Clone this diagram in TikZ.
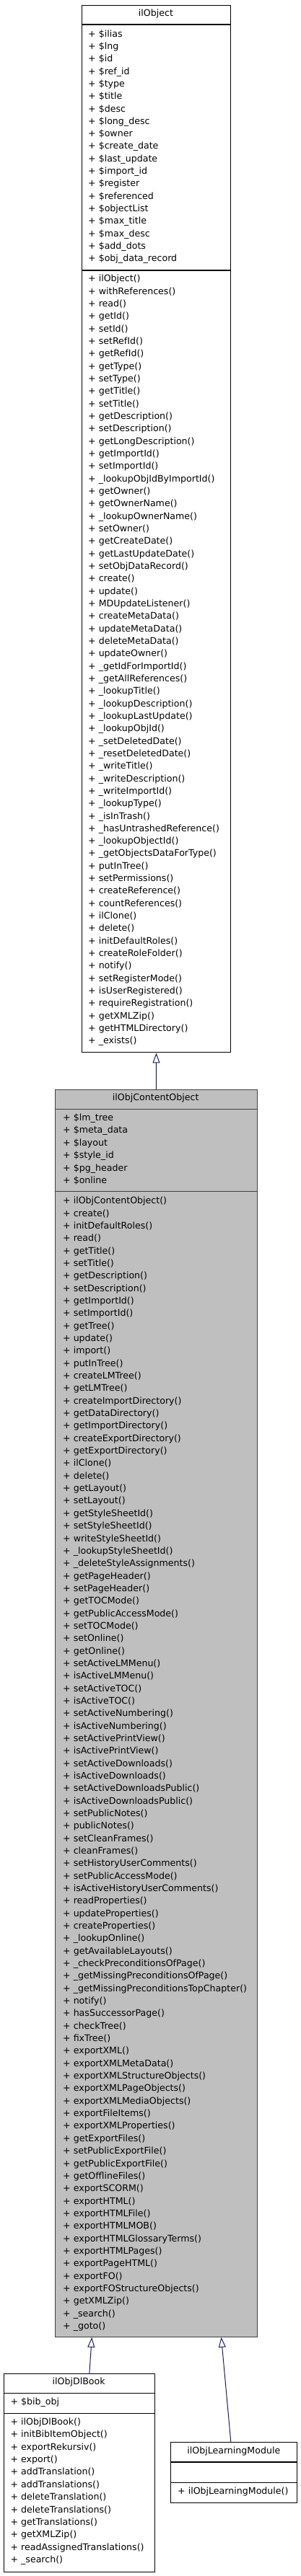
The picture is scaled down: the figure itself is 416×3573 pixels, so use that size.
\documentclass[tikz,border=0pt]{standalone}
\usepackage{fontspec}
\setmainfont{DejaVu Sans}
\usetikzlibrary{arrows.meta}
\definecolor{edgeblue}{HTML}{191970}
\definecolor{fillgray}{HTML}{BFBFBF}
\definecolor{boxgray}{HTML}{404040}
\newcommand{\fsz}{\fontsize{12.6}{15}\selectfont}
\tikzset{
  mline/.style={anchor=west, inner sep=0pt, text height=9.5pt, text depth=2.5pt, font=\fsz},
  ctitle/.style={anchor=center, inner sep=0pt, text height=9.5pt, text depth=2.5pt, font=\fsz},
  wbox/.style={draw=black, line width=1.1pt, fill=white, inner sep=0pt, anchor=north west},
  gbox/.style={draw=boxgray, line width=1.1pt, fill=fillgray, inner sep=0pt, anchor=north west},
  wsep/.style={draw=black, line width=1.1pt},
  gsep/.style={draw=boxgray, line width=1.1pt},
  inh/.style={draw=edgeblue, line width=1pt, -{Triangle[open, length=14pt, width=10pt]}}
}
\begin{document}
\begin{tikzpicture}[x=1pt,y=-1pt]
\useasboundingbox (0,0) rectangle (416,3573);
% ---------- boxes ----------
\node[wbox, minimum width=206.6pt, minimum height=1452.6pt] (ilobj) at (112.7,6.7) {};
\node[gbox, minimum width=280pt, minimum height=1729.7pt] (ilcob) at (75.7,1511) {};
\node[wbox, minimum width=209pt, minimum height=275pt] (dlbook) at (4.7,3291.7) {};
\node[wbox, minimum width=175pt, minimum height=83.7pt] (lm) at (236.3,3387.3) {};
% ---------- separators ----------
\draw[wsep] (112.7,34) -- (319.3,34);
\draw[wsep] (112.7,375) -- (319.3,375);
\draw[gsep] (75.7,1538.7) -- (355.7,1538.7);
\draw[gsep] (75.7,1652.7) -- (355.7,1652.7);
\draw[wsep] (4.7,3319.3) -- (213.7,3319.3);
\draw[wsep] (4.7,3347.7) -- (213.7,3347.7);
\draw[wsep] (236.3,3415) -- (411.3,3415);
\draw[wsep] (236.3,3443.3) -- (411.3,3443.3);
% ---------- titles ----------
\node[ctitle] (t1) at (216,19.3) {ilObject};
\node[ctitle] (t2) at (215.7,1523.3) {ilObjContentObject};
\node[ctitle] (t3) at (109.2,3304.3) {ilObjDlBook};
\node[ctitle] (t4) at (323.8,3400.3) {ilObjLearningModule};
% ---------- ilObject attributes ----------
\foreach \t [count=\i from 0] in {\$ilias,\$lng,\$id,\$ref\_id,\$type,\$title,\$desc,\$long\_desc,\$owner,\$create\_date,\$last\_update,\$import\_id,\$register,\$referenced,\$objectList,\$max\_title,\$max\_desc,\$add\_dots,\$obj\_data\_record}
  \node[mline] (oa\i) at (122,{47.7+17.31*\i}) {+ \t};
% ---------- ilObject methods ----------
\foreach \t [count=\i from 0] in {ilObject(),withReferences(),read(),getId(),setId(),setRefId(),getRefId(),getType(),setType(),getTitle(),setTitle(),getDescription(),setDescription(),getLongDescription(),getImportId(),setImportId(),\_lookupObjIdByImportId(),getOwner(),getOwnerName(),\_lookupOwnerName(),setOwner(),getCreateDate(),getLastUpdateDate(),setObjDataRecord(),create(),update(),MDUpdateListener(),createMetaData(),updateMetaData(),deleteMetaData(),updateOwner(),\_getIdForImportId(),\_getAllReferences(),\_lookupTitle(),\_lookupDescription(),\_lookupLastUpdate(),\_lookupObjId(),\_setDeletedDate(),\_resetDeletedDate(),\_writeTitle(),\_writeDescription(),\_writeImportId(),\_lookupType(),\_isInTrash(),\_hasUntrashedReference(),\_lookupObjectId(),\_getObjectsDataForType(),putInTree(),setPermissions(),createReference(),countReferences(),ilClone(),delete(),initDefaultRoles(),createRoleFolder(),notify(),setRegisterMode(),isUserRegistered(),requireRegistration(),getXMLZip(),getHTMLDirectory(),\_exists()}
  \node[mline] (om\i) at (122,{387.3+17.33*\i}) {+ \t};
% ---------- ilObjContentObject attributes ----------
\foreach \t [count=\i from 0] in {\$lm\_tree,\$meta\_data,\$layout,\$style\_id,\$pg\_header,\$online}
  \node[mline] (ca\i) at (87,{1551+17.46*\i}) {+ \t};
% ---------- ilObjContentObject methods ----------
\foreach \t [count=\i from 0] in {ilObjContentObject(),create(),initDefaultRoles(),read(),getTitle(),setTitle(),getDescription(),setDescription(),getImportId(),setImportId(),getTree(),update(),import(),putInTree(),createLMTree(),getLMTree(),createImportDirectory(),getDataDirectory(),getImportDirectory(),createExportDirectory(),getExportDirectory(),ilClone(),delete(),getLayout(),setLayout(),getStyleSheetId(),setStyleSheetId(),writeStyleSheetId(),\_lookupStyleSheetId(),\_deleteStyleAssignments(),getPageHeader(),setPageHeader(),getTOCMode(),getPublicAccessMode(),setTOCMode(),setOnline(),getOnline(),setActiveLMMenu(),isActiveLMMenu(),setActiveTOC(),isActiveTOC(),setActiveNumbering(),isActiveNumbering(),setActivePrintView(),isActivePrintView(),setActiveDownloads(),isActiveDownloads(),setActiveDownloadsPublic(),isActiveDownloadsPublic(),setPublicNotes(),publicNotes(),setCleanFrames(),cleanFrames(),setHistoryUserComments(),setPublicAccessMode(),isActiveHistoryUserComments(),readProperties(),updateProperties(),createProperties(),\_lookupOnline(),getAvailableLayouts(),\_checkPreconditionsOfPage(),\_getMissingPreconditionsOfPage(),\_getMissingPreconditionsTopChapter(),notify(),hasSuccessorPage(),checkTree(),fixTree(),exportXML(),exportXMLMetaData(),exportXMLStructureObjects(),exportXMLPageObjects(),exportXMLMediaObjects(),exportFileItems(),exportXMLProperties(),getExportFiles(),setPublicExportFile(),getPublicExportFile(),getOfflineFiles(),exportSCORM(),exportHTML(),exportHTMLFile(),exportHTMLMOB(),exportHTMLGlossaryTerms(),exportHTMLPages(),exportPageHTML(),exportFO(),exportFOStructureObjects(),getXMLZip(),\_search(),\_goto()}
  \node[mline] (cm\i) at (87,{1666.3+17.34*\i}) {+ \t};
% ---------- ilObjDlBook ----------
\node[mline] (da0) at (14.4,3332.3) {+ \$bib\_obj};
\foreach \t [count=\i from 0] in {ilObjDlBook(),initBibItemObject(),exportRekursiv(),export(),addTranslation(),addTranslations(),deleteTranslation(),deleteTranslations(),getTranslations(),getXMLZip(),readAssignedTranslations(),\_search()}
  \node[mline] (dm\i) at (14.4,{3360+17.36*\i}) {+ \t};
% ---------- ilObjLearningModule ----------
\node[mline] (lmm0) at (246,3456) {+ ilObjLearningModule()};
% ---------- inheritance ----------
\draw[inh] (ilcob.north) -- (ilobj.south);
\draw[inh] ([xshift=14.1pt]dlbook.north) -- ([xshift=-89pt]ilcob.south);
\draw[inh] ([xshift=-4.5pt]lm.north) -- ([xshift=90.3pt]ilcob.south);
\end{tikzpicture}
\end{document}
